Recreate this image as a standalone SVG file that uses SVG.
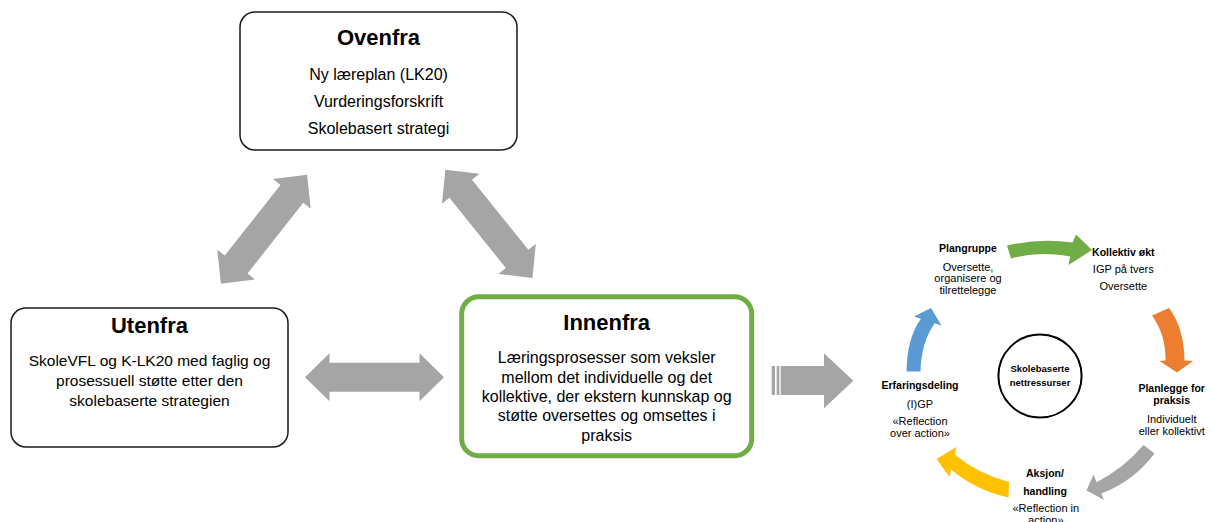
<svg xmlns="http://www.w3.org/2000/svg" xmlns:xlink="http://www.w3.org/1999/xlink" width="1212" height="522" viewBox="0 0 1212 522">
  <style>
    text { font-family: "Liberation Sans", Arial, sans-serif; fill: #000; text-anchor: middle; }
    .box { fill: #fff; stroke: #1a1a1a; stroke-width: 1.5; }
    .box-green { fill: #fff; stroke: #70AD47; stroke-width: 5; }
    .title { font-size: 22px; font-weight: bold; }
    .body { font-size: 16px; }
    .cy-h { font-size: 10.5px; font-weight: bold; }
    .cy-t { font-size: 11px; }
    .hub-t { font-size: 9.5px; font-weight: bold; }
    .grey { fill: #A5A5A5; }
  </style>
  <defs>
    <!-- two-headed block arrow, centred on the origin, pointing along x -->
    <path id="dbl-arrow" d="M -69.5,0 L -45,-24 L -45,-14.5 L 45,-14.5 L 45,-24 L 69.5,0 L 45,24 L 45,14.5 L -45,14.5 L -45,24 Z"/>
  </defs>

  <rect width="1212" height="522" fill="#fff"/>

  <!-- connectors -->
  <g id="connectors">
    <use xlink:href="#dbl-arrow" class="grey" transform="translate(264,229.2) rotate(-51.7)"/>
    <use xlink:href="#dbl-arrow" class="grey" transform="translate(488.9,223.8) rotate(51.2)"/>
    <use xlink:href="#dbl-arrow" class="grey" transform="translate(374.5,377.2)"/>

    <!-- striped arrow towards the cycle -->
    <g id="arrow-to-cycle" class="grey">
      <rect x="771.7" y="366" width="3.3" height="29"/>
      <rect x="776.7" y="366" width="2.6" height="29"/>
      <path d="M780.7,366 L824,366 L824,353.3 L853.3,380.7 L824,408.3 L824,395 L780.7,395 Z"/>
    </g>

    <!-- cycle arrows -->
    <path id="cyc-green" fill="#70AD47" d="M1007,245.5 Q1040,238 1072.5,242.5 L1076,234.5 L1092,250 L1068.5,265 L1070,256.5 Q1040,250.5 1011,258.5 Z"/>
    <path id="cyc-orange" fill="#ED7D31" d="M1152,315.5 Q1166,335 1165.5,360.5 L1159.5,361 L1177,372.5 L1193,361 L1184.5,360.5 Q1184,328 1169,308 Z"/>
    <path id="cyc-grey" class="grey" d="M1143.5,445 Q1124,468 1096.6,482.2 L1093.5,474.5 L1086.5,490.5 L1104,500 L1101.4,493.6 Q1134,481 1154.5,453.5 Z"/>
    <path id="cyc-yellow" fill="#FFC000" d="M1009,482 Q978,474 954.75,454.5 L956.5,447 L936.5,459 L949.5,477 L951.25,469.5 Q975,490 1008.5,497.5 Z"/>
    <path id="cyc-blue" fill="#5B9BD5" d="M906.5,371.5 Q907,338 920.9,318.75 L914,316.5 L931,308 L941.5,325.5 L934.6,323.25 Q921,343 920.5,371.5 Z"/>
  </g>

  <!-- Ovenfra -->
  <g id="node-ovenfra">
    <rect class="box" x="240" y="12" width="277" height="138" rx="15"/>
    <text class="title" x="378.5" y="44.5">Ovenfra</text>
    <text class="body" x="378.5" y="79.5">Ny læreplan (LK20)</text>
    <text class="body" x="378.5" y="106.5">Vurderingsforskrift</text>
    <text class="body" x="378.5" y="134">Skolebasert strategi</text>
  </g>

  <!-- Utenfra -->
  <g id="node-utenfra">
    <rect class="box" x="11" y="308" width="277" height="139" rx="15"/>
    <text class="title" x="149.5" y="333">Utenfra</text>
    <text class="body" x="149.5" y="366" style="font-size:15.5px">SkoleVFL og K-LK20 med faglig og</text>
    <text class="body" x="149.5" y="386" style="font-size:15.5px">prosessuell støtte etter den</text>
    <text class="body" x="149.5" y="405.5" style="font-size:15.5px">skolebaserte strategien</text>
  </g>

  <!-- Innenfra -->
  <g id="node-innenfra">
    <rect class="box-green" x="461.7" y="296.7" width="290" height="159" rx="17"/>
    <text class="title" x="606.7" y="329.5">Innenfra</text>
    <text class="body" x="606.7" y="363">Læringsprosesser som veksler</text>
    <text class="body" x="606.7" y="382.5">mellom det individuelle og det</text>
    <text class="body" x="606.7" y="402">kollektive, der ekstern kunnskap og</text>
    <text class="body" x="606.7" y="421">støtte oversettes og omsettes i</text>
    <text class="body" x="606.7" y="440.5">praksis</text>
  </g>

  <!-- cycle hub -->
  <g id="node-hub">
    <circle cx="1040" cy="376" r="41.6" fill="#fff" stroke="#000" stroke-width="2"/>
    <text class="hub-t" x="1040" y="371.7">Skolebaserte</text>
    <text class="hub-t" x="1040" y="385.5">nettressurser</text>
  </g>

  <g id="node-plangruppe">
    <text class="cy-h" x="968" y="252">Plangruppe</text>
    <text class="cy-t" x="968" y="270.5">Oversette,</text>
    <text class="cy-t" x="968" y="282">organisere og</text>
    <text class="cy-t" x="968" y="293.5">tilrettelegge</text>
  </g>

  <g id="node-kollektiv">
    <text class="cy-h" x="1123.3" y="255.7">Kollektiv økt</text>
    <text class="cy-t" x="1123.3" y="273.3">IGP på tvers</text>
    <text class="cy-t" x="1123.3" y="290">Oversette</text>
  </g>

  <g id="node-planlegge">
    <text class="cy-h" x="1171.7" y="392">Planlegge for</text>
    <text class="cy-h" x="1171.7" y="404">praksis</text>
    <text class="cy-t" x="1171.7" y="422.5">Individuelt</text>
    <text class="cy-t" x="1171.7" y="434.5">eller kollektivt</text>
  </g>

  <g id="node-aksjon">
    <text class="cy-h" x="1045" y="477.3">Aksjon/</text>
    <text class="cy-h" x="1045" y="494.5">handling</text>
    <text class="cy-t" x="1045.8" y="511.7">«Reflection in</text>
    <text class="cy-t" x="1045.8" y="524">action»</text>
  </g>

  <g id="node-erfaring">
    <text class="cy-h" x="920" y="389.3">Erfaringsdeling</text>
    <text class="cy-t" x="920" y="408">(I)GP</text>
    <text class="cy-t" x="920" y="425">«Reflection</text>
    <text class="cy-t" x="920" y="436.7">over action»</text>
  </g>
</svg>
